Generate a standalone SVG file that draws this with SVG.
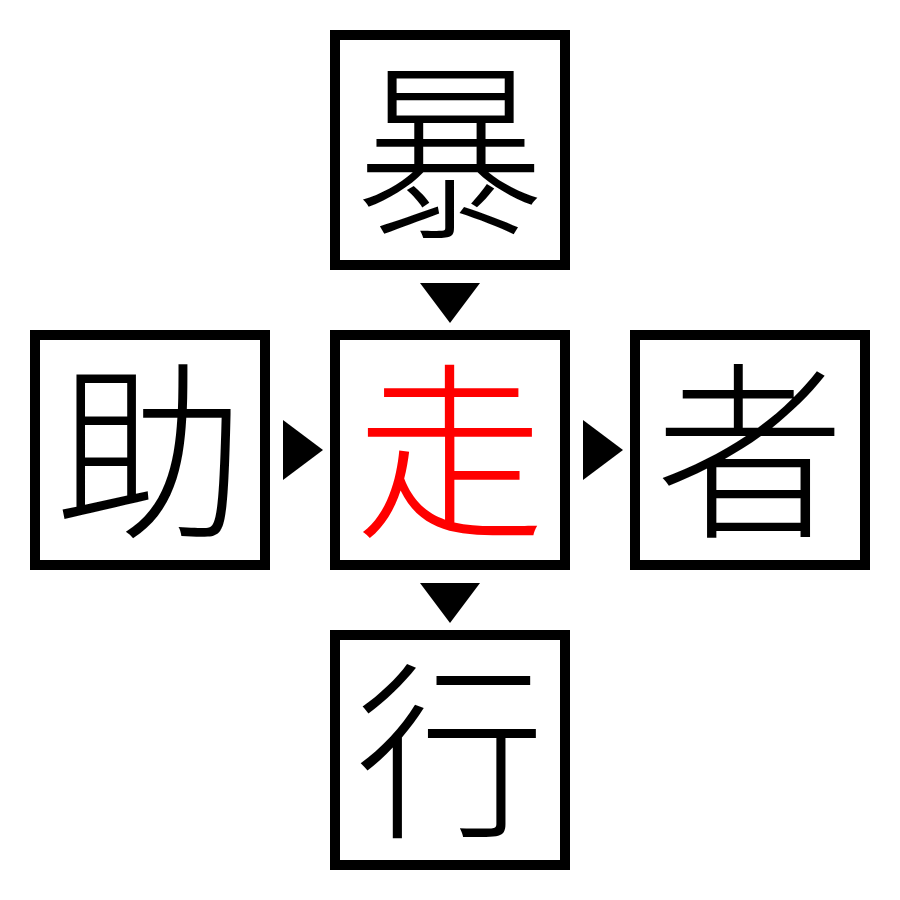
<svg xmlns="http://www.w3.org/2000/svg" width="900" height="900" viewBox="0 0 900 900">
<style>
.box{fill:#fff;stroke:#000;stroke-width:10}
.ch{font-family:"Noto Sans CJK JP","Noto Sans CJK SC",sans-serif;font-size:190px;font-weight:300;text-anchor:middle;fill:#000}
.red{fill:#f00}
.arr{fill:#000}
</style>
<rect width="900" height="900" fill="#fff"/>
<g id="node-top"><rect class="box" x="335" y="35" width="230" height="230"/><text class="ch" x="450" y="223">暴</text></g>
<g id="node-left"><rect class="box" x="35" y="335" width="230" height="230"/><text class="ch" x="150" y="523">助</text></g>
<g id="node-center"><rect class="box" x="335" y="335" width="230" height="230"/><text class="ch red" x="450" y="523">走</text></g>
<g id="node-right"><rect class="box" x="635" y="335" width="230" height="230"/><text class="ch" x="750" y="523">者</text></g>
<g id="node-bottom"><rect class="box" x="335" y="635" width="230" height="230"/><text class="ch" x="450" y="823">行</text></g>
<g id="connectors">
<polygon class="arr" points="420,283 480,283 450,323"/>
<polygon class="arr" points="283,420 283,480 323,450"/>
<polygon class="arr" points="583,420 583,480 623,450"/>
<polygon class="arr" points="420,583 480,583 450,623"/>
</g>
</svg>
